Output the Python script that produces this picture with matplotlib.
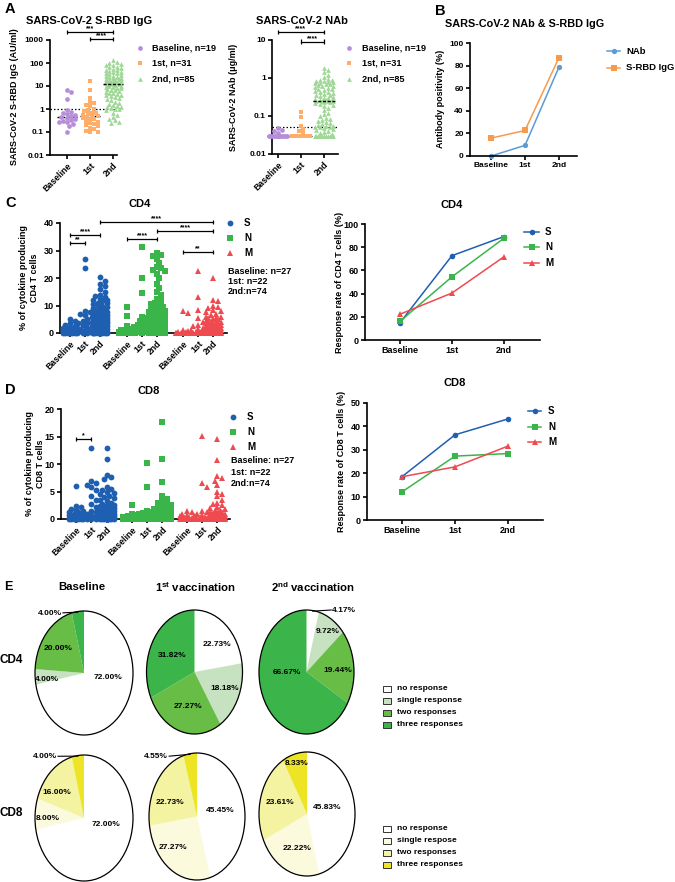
import numpy as np
import matplotlib
matplotlib.use('Agg')
import matplotlib.pyplot as plt
from matplotlib.patches import Circle, Rectangle
from matplotlib.lines import Line2D

# ======================= DATA =======================
groups3 = ['Baseline', '1st', '2nd']
groups9 = ['Baseline', '1st', '2nd'] * 3

# Panel A: S-RBD IgG (AU/ml)
igg_base = [6.5, 5.5, 2.6, 0.9, 0.75, 0.65, 0.6, 0.55, 0.5, 0.45, 0.4, 0.38, 0.32, 0.3, 0.28, 0.26, 0.22, 0.18, 0.1]
igg_1st = [16, 6.5, 3, 2, 1.8, 1.5, 1.3, 1.0, 0.9, 0.8, 0.7, 0.65, 0.6, 0.55, 0.5, 0.48, 0.45, 0.4, 0.38, 0.35,
           0.3, 0.28, 0.25, 0.22, 0.2, 0.18, 0.15, 0.13, 0.11, 0.1, 0.1]
igg_2nd = [130, 110, 100, 90, 85, 80, 70, 65, 60, 55, 50, 48, 45, 42, 40, 38, 35, 33, 30, 28,
           27, 25, 24, 23, 22, 21, 20, 19, 18, 17.5, 17, 16, 15.5, 15, 14.5, 14, 14, 13.5, 13, 13,
           12.5, 12, 11.5, 11, 10.5, 10, 9.5, 9, 8.5, 8, 7.5, 7, 6.5, 6, 5.5, 5, 4.8, 4.5, 4.2, 4,
           3.6, 3.3, 3, 2.7, 2.4, 2.1, 1.9, 1.7, 1.5, 1.3, 1.1, 1.02, 1.25, 1.2, 1.05, 0.9, 0.7, 0.55,
           0.45, 0.38, 0.32, 0.28, 0.25]
# Panel A: NAb (ug/ml)
nab_base = [0.048, 0.042, 0.04, 0.035] + [0.03] * 15
nab_1st = [0.13, 0.095, 0.055, 0.045, 0.04, 0.035] + [0.03] * 25
nab_2nd = [1.8, 1.6, 1.4, 1.2, 1.05, 0.95, 0.9, 0.88, 0.85, 0.82, 0.8, 0.78, 0.75, 0.72, 0.7, 0.68, 0.65,
           0.62, 0.6, 0.58, 0.55, 0.52, 0.5, 0.48, 0.46, 0.44, 0.42, 0.4, 0.38, 0.36, 0.35, 0.34, 0.32,
           0.3, 0.29, 0.28, 0.27, 0.26, 0.26, 0.25, 0.25, 0.25, 0.25, 0.24, 0.23, 0.22, 0.21, 0.2, 0.18,
           0.16, 0.14, 0.12, 0.11, 0.1, 0.09, 0.085, 0.08, 0.075, 0.07, 0.065, 0.06, 0.058, 0.056, 0.054,
           0.052, 0.051, 0.051, 0.048, 0.045, 0.042, 0.04, 0.038, 0.035, 0.033] + [0.03] * 11
igg_cut, nab_cut = 1.0, 0.05

# Panel B
pos_labels = ['NAb', 'S-RBD IgG']
pos_nab = [0.0, 9.4, 78.8]
pos_igg = [15.8, 22.6, 87.1]

# Panel C (CD4, %)
cd4_S = [
    [5.2, 4.3, 3.5, 3.0, 2.5, 2.2, 2.0, 1.8, 1.5, 1.3, 1.2, 1.0, 0.9, 0.8, 0.7, 0.6, 0.5, 0.4, 0.3, 0.2, 0.15, 0.1, 0.05, 0, 0, 0, 0],
    [27, 23.5, 8, 7.5, 7, 6.5, 6, 5, 4.5, 4, 3.5, 3.5, 3, 2.5, 2, 1.5, 1.2, 1, 0.5, 0.3, 0, 0],
    [20.3, 19.0, 18.0, 17.0, 16.0, 15.0, 14.0, 13.5, 13.0, 12.5, 12.0, 12.0, 11.5, 11.0, 11.0, 10.5, 10.0, 10.0, 9.5, 9.0,
     9.0, 8.5, 8.5, 8.0, 8.0, 7.5, 7.5, 7.0, 7.0, 6.5, 6.5, 6.0, 6.0, 5.5, 5.5, 5.0, 5.0, 4.5, 4.5, 4.0,
     4.0, 3.5, 3.5, 3.0, 3.0, 2.8, 2.5, 2.5, 2.2, 2.0, 2.0, 1.8, 1.5, 1.5, 1.2, 1.0, 1.0, 0.8, 0.6, 0.5,
     0.4, 0.3, 0.2, 0.1] + [0.0] * 10]
cd4_N = [
    [9.6, 6.2, 2.7, 1.6, 1.2, 1.0, 0.8, 0.6, 0.5, 0.4, 0.3, 0.2, 0.1] + [0.0] * 14,
    [31.2, 20.0, 14.5, 6.0, 5.5, 4.5, 4.0, 3.5, 3.0, 2.5, 2.2, 2.0, 1.8, 1.5, 1.2, 1.0, 0.8, 0.5, 0.3, 0, 0, 0],
    [29.0, 28.5, 28.0, 27.0, 25.5, 24.0, 23.5, 23.0, 22.5, 21.5, 20.0, 18.0, 16.5, 15.0, 14.0, 12.5, 11.5, 11.0, 10.5, 10.0,
     9.5, 9.0, 8.5, 8.0, 8.0, 7.5, 7.5, 7.0, 7.0, 6.5, 6.5, 6.0, 6.0, 6.0, 5.5, 5.5, 5.5, 5.0, 5.0, 5.0,
     4.5, 4.5, 4.5, 4.0, 4.0, 4.0, 3.5, 3.5, 3.5, 3.0, 3.0, 3.0, 2.5, 2.5, 2.0, 2.0, 1.8, 1.5, 1.5, 1.2,
     1.0, 1.0, 0.8, 0.5, 0.5, 0.3, 0.2] + [0.0] * 7]
cd4_M = [
    [8.0, 7.3, 1.0, 0.8, 0.5, 0.3, 0.2, 0.1] + [0.0] * 19,
    [22.7, 13.2, 8.4, 5.5, 4.0, 3.0, 2.5, 2.0, 1.5, 1.0, 0.8, 0.5, 0.3, 0.2] + [0.0] * 8,
    [20.0, 12.0, 11.5, 10.0, 9.5, 9.0, 8.5, 8.0, 7.5, 7.0, 6.5, 6.0, 6.0, 5.5, 5.5, 5.0, 5.0, 4.5, 4.5, 4.0,
     4.0, 4.0, 3.5, 3.5, 3.5, 3.0, 3.0, 3.0, 3.0, 2.5, 2.5, 2.5, 2.5, 2.2, 2.0, 2.0, 2.0, 1.8, 1.5, 1.5,
     1.5, 1.2, 1.2, 1.0, 1.0, 1.0, 0.8, 0.8, 0.6, 0.5, 0.5, 0.4, 0.3, 0.3, 0.2, 0.2, 0.1, 0.1] + [0.0] * 16]

# Panel D (CD8, %)
cd8_S = [
    [6.0, 2.4, 2.1, 1.9, 1.7, 1.5, 1.3, 1.2, 1.0, 0.9, 0.8, 0.7, 0.6, 0.5, 0.4, 0.3, 0.2, 0.1] + [0.0] * 9,
    [13.0, 6.9, 6.6, 6.2, 5.8, 5.2, 4.1, 3.5, 2.8, 2.2, 1.5, 1.2, 1.0, 0.8, 0.6, 0.4, 0.3, 0.2, 0.1, 0, 0, 0],
    [12.9, 10.9, 8.0, 7.6, 7.2, 5.8, 5.5, 5.2, 5.0, 4.8, 4.5, 4.2, 4.0, 3.8, 3.5, 3.2, 3.0, 2.8, 2.6, 2.5,
     2.3, 2.2, 2.0, 2.0, 1.8, 1.7, 1.6, 1.5, 1.5, 1.4, 1.3, 1.2, 1.2, 1.1, 1.1, 1.0, 1.0, 1.0, 0.9, 0.9,
     0.8, 0.8, 0.7, 0.7, 0.6, 0.6, 0.5, 0.5, 0.4, 0.4, 0.3, 0.3, 0.2, 0.2, 0.1, 0.1] + [0.0] * 18]
cd8_N = [
    [2.6, 1.0, 0.8, 0.6, 0.5, 0.4, 0.3, 0.2, 0.1] + [0.0] * 18,
    [10.2, 5.8, 1.5, 1.3, 1.1, 1.0, 0.9, 0.8, 0.6, 0.5, 0.4, 0.3, 0.2, 0.1] + [0.0] * 8,
    [17.6, 11.0, 6.8, 4.2, 3.6, 3.3, 3.0, 2.8, 2.6, 2.4, 2.2, 2.0, 1.9, 1.8, 1.6, 1.5, 1.4, 1.3, 1.2, 1.1,
     1.0, 1.0, 0.9, 0.9, 0.8, 0.8, 0.7, 0.7, 0.6, 0.6, 0.5, 0.5, 0.4, 0.4, 0.3, 0.3, 0.2, 0.2, 0.1, 0.1] + [0.0] * 34]
cd8_M = [
    [1.5, 1.2, 1.0, 0.8, 0.6, 0.5, 0.4, 0.3, 0.2, 0.1] + [0.0] * 17,
    [15.1, 6.6, 5.9, 1.5, 1.2, 1.0, 0.8, 0.6, 0.5, 0.4, 0.3, 0.2, 0.1] + [0.0] * 9,
    [14.5, 10.8, 7.8, 7.5, 7.0, 6.2, 5.0, 4.5, 4.1, 3.5, 3.0, 2.7, 2.5, 2.2, 2.0, 1.8, 1.6, 1.5, 1.4, 1.3,
     1.2, 1.1, 1.0, 1.0, 0.9, 0.8, 0.8, 0.7, 0.6, 0.6, 0.5, 0.5, 0.4, 0.4, 0.3, 0.3, 0.2, 0.2, 0.1, 0.1] + [0.0] * 34]

# Response rates (%)
cd4_rate = {'S': [14.8, 72.7, 89.2], 'N': [16.0, 54.5, 87.8], 'M': [22.2, 40.5, 71.8]}
cd8_rate = {'S': [18.5, 36.4, 43.2], 'N': [12.0, 27.3, 28.4], 'M': [18.5, 22.7, 31.6]}

# Panel E pies (no / single / two / three responses, %)
pie_titles = ['Baseline', '1$^{\\mathrm{st}}$ vaccination', '2$^{\\mathrm{nd}}$ vaccination']
pie_cd4 = [[72.00, 4.00, 20.00, 4.00], [22.73, 18.18, 27.27, 31.82], [4.17, 9.72, 19.44, 66.67]]
pie_cd8 = [[72.00, 8.00, 16.00, 4.00], [45.45, 27.27, 22.73, 4.55], [45.83, 22.22, 23.61, 8.33]]
leg_cd4 = ['no response', 'single response', 'two responses', 'three responses']
leg_cd8 = ['no response', 'single respose', 'two responses', 'three responses']

# ======================= STYLE =======================
W, H = 675, 882
SANS = ['Liberation Sans', 'DejaVu Sans']
NARROW = ['Liberation Sans Narrow', 'Liberation Sans', 'DejaVu Sans']
plt.rcParams.update({
    'font.family': SANS, 'font.weight': 'bold',
    'axes.linewidth': 1.2, 'xtick.major.width': 1.2, 'ytick.major.width': 1.2,
    'xtick.major.size': 3, 'ytick.major.size': 3,
    'xtick.labelsize': 6, 'ytick.labelsize': 6,
    'xtick.major.pad': 1.5, 'ytick.major.pad': 1.5,
    'mathtext.fontset': 'custom',
    'mathtext.rm': 'Liberation Sans:bold',
    'mathtext.bf': 'Liberation Sans:bold',
})
C_PUR, C_ORA, C_GRN = '#b68ed8', '#ffad68', '#9fd896'
C_S, C_N, C_M = '#1f5fb2', '#3ab54a', '#ef4a50'
C_NAB, C_IGG = '#5b9bd5', '#f89a4c'
PIE4 = ['#ffffff', '#c6e2c0', '#68bd47', '#3bb54a']
PIE8 = ['#ffffff', '#fcfadd', '#f4f3a2', '#ece424']

fig = plt.figure(figsize=(W / 100, H / 100), dpi=100)


def fx(x):
    return x / W


def fy(y):
    return 1 - y / H


def add_ax(x0, y0, x1, y1):
    return fig.add_axes([x0 / W, 1 - y1 / H, (x1 - x0) / W, (y1 - y0) / H])


def prism(ax):
    for s in ['top', 'right']:
        ax.spines[s].set_visible(False)
    ax.minorticks_off()


def ftext(x, y, s, **kw):
    kw.setdefault('ha', 'center')
    kw.setdefault('va', 'center')
    return fig.text(fx(x), fy(y), s, **kw)


def fmarker(x, y, marker, color, ms):
    fig.add_artist(Line2D([fx(x)], [fy(y)], marker=marker, color=color, ms=ms, mew=0,
                          ls='none', transform=fig.transFigure))


def fline_marker(x0, x1, y, marker, color, ms):
    fig.add_artist(Line2D([fx(x0), fx(x1)], [fy(y), fy(y)], color=color, lw=1.1,
                          transform=fig.transFigure))
    fig.add_artist(Line2D([fx((x0 + x1) / 2)], [fy(y)], marker=marker, color=color, ms=ms,
                          mew=0, ls='none', transform=fig.transFigure))


def swarm_x(ax, xc, vals, ms, maxw):
    d = ms * 100 / 72 * 0.8
    T = ax.transData
    Ti = T.inverted()
    vals = np.asarray(vals, float)
    pix = T.transform(np.column_stack([np.full(len(vals), xc), vals]))
    order = np.argsort(-vals, kind='stable')
    offs = [0.0]
    step = d / 2
    k = 1
    while k * step <= maxw + 1e-9:
        offs += [k * step, -k * step]
        k += 1
    placed = []
    xs = np.empty(len(vals))
    for i in order:
        px, py = pix[i]
        best, bestd, cand = None, -1, 0.0
        for o in offs:
            if not placed:
                best = o
                break
            P = np.array(placed)
            dist = np.min(np.hypot(P[:, 0] - (px + o), P[:, 1] - py))
            if dist >= d:
                best = o
                break
            if dist > bestd:
                bestd, cand = dist, o
        if best is None:
            best = cand
        placed.append((px + best, py))
        xs[i] = Ti.transform((px + best, py))[0]
    return xs


def swarm(ax, xc, vals, color, marker, ms, maxw, med_hw, med_front=False):
    xs = swarm_x(ax, xc, vals, ms, maxw)
    med = np.median(vals)
    p = ax.transData.transform((xc, med))
    Ti = ax.transData.inverted()
    xl = Ti.transform((p[0] - med_hw, p[1]))[0]
    xr = Ti.transform((p[0] + med_hw, p[1]))[0]
    ax.plot([xl, xr], [med, med], color='k', lw=1.0, ls=(0, (2.2, 1.2)),
            zorder=4 if med_front else 2, clip_on=False)
    ax.plot(xs, vals, ls='none', marker=marker, color=color, ms=ms, mew=0, zorder=3, clip_on=False)


def bracket(ax, x1, x2, y, text, cap, logy=False, fs=5):
    lo, hi = (y / cap, y * cap) if logy else (y - cap, y + cap)
    kw = dict(color='k', lw=0.9, clip_on=False, solid_capstyle='butt')
    ax.plot([x1, x2], [y, y], **kw)
    ax.plot([x1, x1], [lo, hi], **kw)
    ax.plot([x2, x2], [lo, hi], **kw)
    ax.text((x1 + x2) / 2, y, text, ha='center', va='bottom', fontsize=fs, clip_on=False)


def rot_xlabels(ax, labels, fs=6):
    ax.set_xticklabels(labels, rotation=45, ha='right', rotation_mode='anchor', fontsize=fs)


# ======================= PANEL A =======================
ftext(5, 9, 'A', ha='left', fontsize=10.5)

# A left: S-RBD IgG
axA1 = add_ax(50, 40, 117, 155)
prism(axA1)
axA1.set_yscale('log')
axA1.set_ylim(0.01, 1000)
axA1.set_xlim(-0.74, 2.17)
axA1.set_yticks([0.01, 0.1, 1, 10, 100, 1000])
axA1.set_yticklabels(['0.01', '0.1', '1', '10', '100', '1000'])
axA1.minorticks_off()
axA1.set_xticks([0, 1, 2])
rot_xlabels(axA1, groups3, fs=6.3)
axA1.axhline(igg_cut, color='k', lw=0.9, ls=(0, (1.2, 1.6)), zorder=1)
for i, (v, c, m) in enumerate(zip([igg_base, igg_1st, igg_2nd], [C_PUR, C_ORA, C_GRN], ['o', 's', '^'])):
    swarm(axA1, i, v, c, m, 3.4, 9, 10, med_front=(i == 2))
bracket(axA1, 0, 2, 2200, '***', 1.25, logy=True)
bracket(axA1, 1, 2, 1100, '****', 1.25, logy=True)
ftext(89, 21, 'SARS-CoV-2 S-RBD IgG', fontsize=8)
ftext(15, 97, 'SARS-CoV-2 S-RBD IgG (AU/ml)', rotation=90, fontsize=6.5)
for (lab, c, m, yy) in zip(['Baseline, n=19', '1st, n=31', '2nd, n=85'], [C_PUR, C_ORA, C_GRN],
                           ['o', 's', '^'], [48, 63, 79]):
    fmarker(140, yy, m, c, 3.4)
    ftext(152, yy, lab, ha='left', fontsize=6.6)

# A right: NAb
axA2 = add_ax(272, 40, 338, 154)
prism(axA2)
axA2.set_yscale('log')
axA2.set_ylim(0.01, 10)
axA2.set_xlim(-0.26, 2.61)
axA2.set_yticks([0.01, 0.1, 1, 10])
axA2.set_yticklabels(['0.01', '0.1', '1', '10'])
axA2.minorticks_off()
axA2.set_xticks([0, 1, 2])
rot_xlabels(axA2, groups3, fs=6.3)
axA2.axhline(nab_cut, color='k', lw=0.9, ls=(0, (1.2, 1.6)), zorder=1)
for i, (v, c, m) in enumerate(zip([nab_base, nab_1st, nab_2nd], [C_PUR, C_ORA, C_GRN], ['o', 's', '^'])):
    swarm(axA2, i, v, c, m, 3.4, 10, 11, med_front=(i == 2))
bracket(axA2, 0, 2, 16.2, '****', 1.15, logy=True)
bracket(axA2, 1, 2, 9.0, '****', 1.15, logy=True)
ftext(302, 21, 'SARS-CoV-2 NAb', fontsize=8)
ftext(234, 97, 'SARS-CoV-2 NAb (\u03bcg/ml)', rotation=90, fontsize=6.5)
for (lab, c, m, yy) in zip(['Baseline, n=19', '1st, n=31', '2nd, n=85'], [C_PUR, C_ORA, C_GRN],
                           ['o', 's', '^'], [48, 63, 79]):
    fmarker(349, yy, m, c, 3.4)
    ftext(362, yy, lab, ha='left', fontsize=6.6)

# ======================= PANEL B =======================
ftext(435, 11, 'B', ha='left', fontsize=10.5)
axB = add_ax(470, 43, 577, 156)
prism(axB)
axB.set_ylim(0, 100)
axB.set_xlim(-0.62, 2.53)
axB.set_yticks(range(0, 101, 20))
axB.set_xticks([0, 1, 2])
axB.set_xticklabels(groups3, fontsize=6)
axB.plot(range(3), pos_nab, color=C_NAB, marker='o', ms=3.8, mew=0, lw=1.1, clip_on=False)
axB.plot(range(3), pos_igg, color=C_IGG, marker='s', ms=3.8, mew=0, lw=1.1, clip_on=False)
ftext(525, 24, 'SARS-CoV-2 NAb & S-RBD IgG', fontsize=7.8)
ftext(440, 99, 'Antibody positivity (%)', rotation=90, fontsize=6.5)
fline_marker(607, 620, 51, 'o', C_NAB, 3.8)
ftext(626, 51, pos_labels[0], ha='left', fontsize=6.8)
fline_marker(607, 620, 68, 's', C_IGG, 3.8)
ftext(626, 68, pos_labels[1], ha='left', fontsize=6.8)


# ======================= PANELS C / D (scatter) =======================
def tcell_scatter(box, xpos, xlim, ylim, yticks, data, title, tpos, ylab_x, brackets, cap, legy, nly):
    ax = add_ax(*box)
    prism(ax)
    ax.set_xlim(*xlim)
    ax.set_ylim(*ylim)
    ax.set_yticks(yticks)
    ax.tick_params(axis='y', labelsize=6.5)
    ax.set_xticks(xpos)
    rot_xlabels(ax, groups9, fs=6.3)
    k = 0
    for series, c, m, ms in zip(data, [C_S, C_N, C_M], ['o', 's', '^'], [4.2, 3.8, 4.4]):
        for v in series:
            swarm(ax, xpos[k], v, c, m, ms, 9, 8)
            k += 1
    for (i, j, yv, t) in brackets:
        bracket(ax, xpos[i], xpos[j], yv, t, cap)
    ftext(tpos[0], tpos[1], title, fontsize=8)
    ftext(ylab_x, (box[1] + box[3]) / 2, '% of cytokine producing\n' + title + ' T cells',
          rotation=90, fontsize=6.5, linespacing=1.3)
    for lab, c, m, yy in zip(['S', 'N', 'M'], [C_S, C_N, C_M], ['o', 's', '^'], legy):
        fmarker(box[2] + 3, yy, m, c, 4.2)
        ftext(box[2] + 17, yy, lab, ha='left', fontsize=7)
    for s, yy in zip(['Baseline: n=27', '1st: n=22', '2nd:n=74'], nly):
        ftext(box[2] + 1, yy, s, ha='left', fontsize=6.5)
    return ax


ftext(5, 203, 'C', ha='left', fontsize=10.5)
tcell_scatter((60, 223, 227, 333), [0, 1, 2, 3.8, 4.8, 5.8, 7.55, 8.55, 9.55], (-0.67, 10.47), (0, 40),
              [0, 10, 20, 30, 40], [cd4_S, cd4_N, cd4_M], 'CD4', (140, 204), 29,
              [(0, 1, 32.7, '**'), (0, 2, 35.6, '****'), (2, 8, 40.4, '****'), (3, 5, 34.2, '****'),
               (5, 8, 37.1, '****'), (6, 8, 29.5, '**')], 0.75,
              [223, 238, 253], [271, 281.5, 292])

ftext(5, 390, 'D', ha='left', fontsize=10.5)
tcell_scatter((61, 409, 230, 519), [0, 1, 2, 3.65, 4.65, 5.65, 7.25, 8.25, 9.25], (-0.98, 10.07), (0, 20),
              [0, 5, 10, 15, 20], [cd8_S, cd8_N, cd8_M], 'CD8', (149, 391), 35,
              [(0, 1, 14.5, '*')], 0.4,
              [417, 432, 447], [461, 472.5, 484])


# ======================= PANELS C / D (response rate) =======================
def rate_plot(box, xlim, ylim, yticks, rates, title, tpos, ylab_x, leg):
    ax = add_ax(*box)
    prism(ax)
    ax.set_xlim(*xlim)
    ax.set_ylim(*ylim)
    ax.set_yticks(yticks)
    ax.tick_params(labelsize=6.5)
    ax.set_xticks([0, 1, 2])
    ax.set_xticklabels(groups3)
    for key, c, m in zip(['S', 'N', 'M'], [C_S, C_N, C_M], ['o', 's', '^']):
        ax.plot(range(3), rates[key], color=c, marker=m, ms=4.0, mew=0, lw=1.1, clip_on=False)
    ftext(tpos[0], tpos[1], title, fontsize=8)
    ftext(ylab_x, (box[1] + box[3]) / 2, 'Response rate of ' + title + ' T cells (%)', rotation=90, fontsize=6.5)
    x0, x1, xt, ys = leg
    for key, c, m, yy in zip(['S', 'N', 'M'], [C_S, C_N, C_M], ['o', 's', '^'], ys):
        fline_marker(x0, x1, yy, m, c, 4.0)
        ftext(xt, yy, key, ha='left', fontsize=7)


rate_plot((365, 224, 540, 340), (-0.67, 2.69), (0, 100), range(0, 101, 20), cd4_rate, 'CD4', (452, 205), 340,
          (524, 539, 545, [232, 247.5, 262.5]))
rate_plot((367, 403, 543, 520), (-0.66, 2.66), (0, 50), range(0, 51, 10), cd8_rate, 'CD8', (455, 383), 341,
          (528, 541, 548, [411, 427, 442]))

# ======================= PANEL E (pies) =======================
ftext(4, 587, 'E', ha='left', fontsize=9, family=NARROW)
for t, xx in zip(pie_titles, [82, 195, 313]):
    ftext(xx, 587, t, fontsize=8.2, family=NARROW)
ftext(0, 660, 'CD4', ha='left', fontsize=8.5, family=NARROW)
ftext(0, 813, 'CD8', ha='left', fontsize=8.5, family=NARROW)

cd4_geo = [(84, 673, 49, 62), (194.5, 672, 48, 62), (306.5, 672, 47.5, 62)]
cd8_geo = [(84, 818, 49, 63), (197, 816.5, 48, 63.5), (307, 814, 48, 62)]
cd4_lab = [[(0.49, -0.08), (-0.76, -0.10), (-0.53, 0.39), (-0.45, 0.96, 'right')],
           [(0.47, 0.44), (0.64, -0.26), (-0.13, -0.56), (-0.47, 0.27)],
           [(0.54, 0.99, 'left'), (0.45, 0.65), (0.66, 0.03), (-0.41, 0.0)]]
cd8_lab = [[(0.45, -0.10), (-0.73, 0.0), (-0.55, 0.41), (-0.55, 0.97, 'right')],
           [(0.48, 0.09), (-0.50, -0.49), (-0.56, 0.22), (-0.60, 0.94, 'right')],
           [(0.42, 0.10), (-0.21, -0.55), (-0.56, 0.18), (-0.21, 0.82)]]


def draw_pie(geo, vals, colors, labs):
    cx, cy, rx, ry = geo
    ax = add_ax(cx - rx, cy - ry, cx + rx, cy + ry)
    wedges, _ = ax.pie(vals, colors=colors, startangle=90, counterclock=False, radius=1,
                       wedgeprops=dict(linewidth=0))
    ax.set_aspect('auto')
    ax.set_xlim(-1, 1)
    ax.set_ylim(-1, 1)
    ax.axis('off')
    ax.add_patch(Circle((0, 0), 1, fill=False, ec='k', lw=0.9, clip_on=False))
    for w, v, lp in zip(wedges, vals, labs):
        s = f'{v:.2f}%'
        if len(lp) == 3:
            x, y, ha = lp
            th = np.deg2rad((w.theta1 + w.theta2) / 2)
            xe = x + (0.02 if ha == 'right' else -0.02)
            ax.plot([xe, np.cos(th) * 0.99], [y + 0.01, np.sin(th) * 0.99], color='k', lw=0.8, clip_on=False)
            ax.text(x, y, s, ha=ha, va='center', fontsize=6.0, family=NARROW)
        else:
            ax.text(lp[0], lp[1], s, ha='center', va='center', fontsize=6.0, family=NARROW)


for g, v, l in zip(cd4_geo, pie_cd4, cd4_lab):
    draw_pie(g, v, PIE4, l)
for g, v, l in zip(cd8_geo, pie_cd8, cd8_lab):
    draw_pie(g, v, PIE8, l)


def pie_legend(labels, colors, ys):
    for lab, c, yy in zip(labels, colors, ys):
        fig.add_artist(Rectangle((fx(383), fy(yy + 3)), 8 / W, 6 / H, transform=fig.transFigure,
                                 fc=c, ec='#333333', lw=0.7))
        ftext(397, yy, lab, ha='left', fontsize=6.0, family=NARROW)


pie_legend(leg_cd4, PIE4, [689, 701, 713, 725])
pie_legend(leg_cd8, PIE8, [829, 841, 853, 865])

fig.savefig('out.png', dpi=100)
